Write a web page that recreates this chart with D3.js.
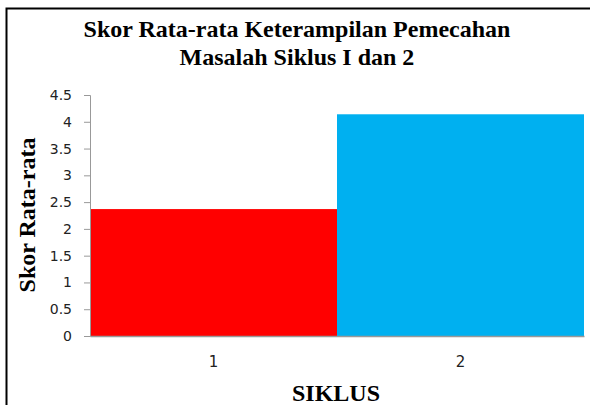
<!DOCTYPE html>
<html>
<head>
<meta charset="utf-8">
<script src="https://cdn.jsdelivr.net/npm/d3@7"></script>
<style>
  body { margin: 0; background: #fff; }
  svg { display: block; }
  .tick text { font-family: "DejaVu Sans", sans-serif; fill: #222; }
  .y .tick text { font-size: 14px; }
  .x .tick text { font-size: 15px; }
</style>
</head>
<body>
<script>
var siklus = ["1", "2"];
var skor = [2.37, 4.14];
var colors = ["#ff0000", "#00b0f0"];
var yTicks = [0, 0.5, 1, 1.5, 2, 2.5, 3, 3.5, 4, 4.5];
var titleLines = ["Skor Rata-rata Keterampilan Pemecahan", "Masalah Siklus I dan 2"];

var W = 590, H = 405;
var margin = {top: 95, right: 6, bottom: 69, left: 90},
    width = W - margin.left - margin.right,
    height = H - margin.top - margin.bottom;

var serif = "'Liberation Serif', 'Times New Roman', serif";

var svg = d3.select("body").append("svg")
    .attr("width", W)
    .attr("height", H);

// frame (left + top only, right/bottom cut off)
svg.append("path")
    .attr("d", "M6.5," + H + "V8.5H" + W)
    .attr("fill", "none")
    .attr("stroke", "#000")
    .attr("stroke-width", 2);

var g = svg.append("g")
    .attr("transform", "translate(" + margin.left + "," + margin.top + ")");

var x = d3.scaleBand()
    .domain(siklus)
    .range([0, width])
    .padding(0);

var y = d3.scaleLinear()
    .domain([0, 4.5])
    .range([height, 0]);

g.selectAll(".bar")
    .data(siklus)
  .enter().append("rect")
    .attr("class", "bar")
    .attr("x", function(d) { return x(d); })
    .attr("y", function(d, i) { return y(skor[i]); })
    .attr("width", x.bandwidth())
    .attr("height", function(d, i) { return height - y(skor[i]); })
    .attr("fill", function(d, i) { return colors[i]; });

var yAxis = g.append("g")
    .attr("class", "y")
    .call(d3.axisLeft(y).tickValues(yTicks).tickSize(6).tickPadding(12).tickFormat(d3.format("")));
yAxis.select(".domain").attr("stroke", "#999");
yAxis.selectAll(".tick line").attr("stroke", "#999");

var xAxis = g.append("g")
    .attr("class", "x")
    .attr("transform", "translate(0," + height + ")")
    .call(d3.axisBottom(x).tickSize(0).tickPadding(20));
xAxis.select(".domain").attr("stroke", "#999").attr("stroke-width", 1.5);

// title
svg.append("text")
    .attr("x", 297)
    .attr("y", 37)
    .attr("text-anchor", "middle")
    .style("font-family", serif)
    .style("font-weight", "bold")
    .style("font-size", "24px")
  .selectAll("tspan")
    .data(titleLines)
  .enter().append("tspan")
    .attr("x", 297)
    .attr("dy", function(d, i) { return i ? 28 : 0; })
    .text(function(d) { return d; });

// axis titles
svg.append("text")
    .attr("transform", "translate(35,215) rotate(-90)")
    .attr("text-anchor", "middle")
    .style("font-family", serif)
    .style("font-weight", "bold")
    .style("font-size", "24px")
    .text("Skor Rata-rata");

svg.append("text")
    .attr("x", 336)
    .attr("y", 401)
    .attr("text-anchor", "middle")
    .style("font-family", serif)
    .style("font-weight", "bold")
    .style("font-size", "24px")
    .text("SIKLUS");
</script>
</body>
</html>
